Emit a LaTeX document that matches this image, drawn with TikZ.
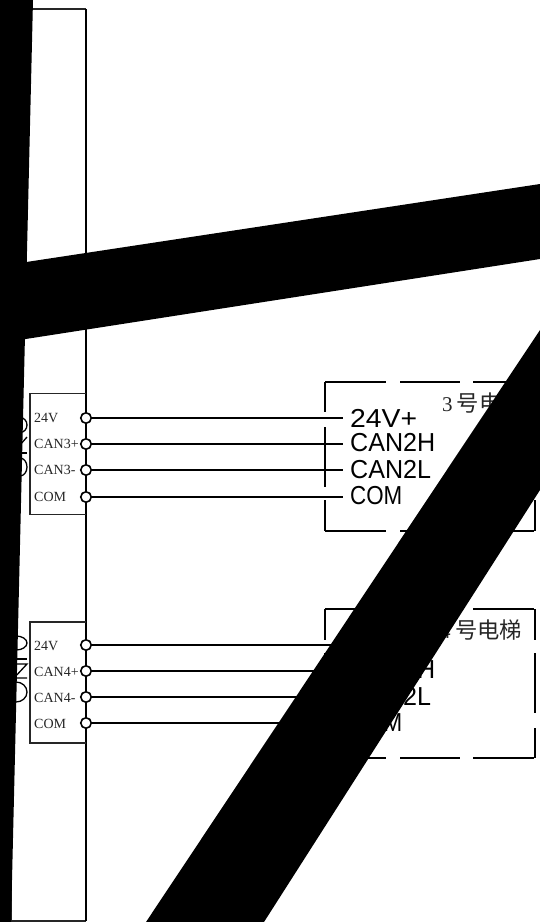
\documentclass[tikz,border=0pt]{standalone}
\usepackage{graphicx}
\usepackage{fontspec}
\setmainfont{Liberation Serif}
\newfontfamily\lsans{Liberation Sans}
\newfontfamily\cjk{Noto Sans CJK SC}
\tikzset{
  thinln/.style={line width=1.3pt,draw=black!85},
  wire/.style={line width=1.6pt,draw=black},
  dashln/.style={line width=1.4pt,draw=black},
  pin/.style={circle,draw=black,fill=white,line width=1.6pt,minimum size=10.5pt,inner sep=0pt},
  small/.style={anchor=base west,inner sep=0pt,font=\fontsize{14}{14}\selectfont,text=black!85},
  big/.style={anchor=base west,inner sep=0pt,font=\lsans\fontsize{26}{26}\selectfont},
  title/.style={anchor=base west,inner sep=0pt,font=\fontsize{21}{21}\selectfont,text=black!85},
  cjktitle/.style={anchor=base west,inner sep=0pt,font=\cjk\fontsize{22.3}{23}\selectfont,text=black!85},
  blackout/.style={fill=black,draw=none}
}
\begin{document}
\begin{tikzpicture}[x=1pt,y=-1pt]
\useasboundingbox (0,0) rectangle (540,922);
\fill[white] (0,0) rectangle (540,922);
% frame
\draw[thinln] (11,9) -- (86,9);
\draw[thinln] (11,921) -- (86,921);
\draw[thinln] (11,9) -- (11,921);
\draw[wire] (86,9) -- (86,921);
% connector blocks
\draw[thinln] (86,393.5) -- (30,393.5) -- (30,514.5) -- (86,514.5);
\draw[thinln] (86,622) -- (30,622) -- (30,743) -- (86,743);
% fragments of the rotated labels
\draw[line width=1.3pt] (20,425) ellipse [x radius=7,y radius=7.5];
\draw[line width=1.3pt] (20,445) -- (27,437);
\draw[line width=1.3pt] (18,453) -- (27,453);
\draw[line width=1.3pt] (20,467) ellipse [x radius=7,y radius=9];
\draw[line width=1.3pt] (16,643) ellipse [x radius=11,y radius=7];
\draw[line width=1.3pt] (12,659) -- (27,659);
\draw[line width=1.3pt] (12,664) -- (27,664) -- (14,678) -- (27,678);
\draw[line width=1.3pt] (16,692) ellipse [x radius=11,y radius=10];
% dashed outlines
\foreach \a/\b in {325/386,400/460,473/534} {
  \draw[dashln] (\a,382) -- (\b,382);
  \draw[dashln] (\a,531) -- (\b,531);
  \draw[dashln] (\a,609) -- (\b,609);
  \draw[dashln] (\a,758) -- (\b,758);
}
\foreach \x in {325,535} {
  \foreach \a/\b in {382/412,427/487,500/531,609/640,653/713,728/758}
    \draw[dashln] (\x,\a) -- (\x,\b);
}
% pins and terminals
\foreach \n/\y in {a/418,b/444,c/470,d/497,e/645,f/671,g/697,h/723} {
  \coordinate (t\n) at (343,\y);
  \node[pin] (p\n) at (86,\y) {};
  \draw[wire] (p\n) -- (t\n);
}
\node[big] (ta) at (350,427) {\scalebox{1.09}[1]{24V+}};
\node[big] (tb) at (350,451.5) {\scalebox{0.965}[1]{CAN2H}};
\node[big] (tc) at (350,478) {\scalebox{0.965}[1]{CAN2L}};
\node[big] (td) at (350,504.5) {\scalebox{0.86}[1]{COM}};
\node[big] (te) at (350,654) {\scalebox{1.09}[1]{24V+}};
\node[big] (tf) at (350,678.5) {\scalebox{0.965}[1]{CAN2H}};
\node[big] (tg) at (350,705) {\scalebox{0.965}[1]{CAN2L}};
\node[big] (th) at (350,731.5) {\scalebox{0.86}[1]{COM}};
\node[small] (la) at (34,422) {24V};
\node[small] (lb) at (34,448) {CAN3+};
\node[small] (lc) at (34,474.5) {CAN3-};
\node[small] (ld) at (34,501) {COM};
\node[small] (le) at (34,650) {24V};
\node[small] (lf) at (34,676.5) {CAN4+};
\node[small] (lg) at (34,702.5) {CAN4-};
\node[small] (lh) at (34,728) {COM};
\node[title] (t3) at (442,411.5) {3};
\node[cjktitle] (c3) at (456.5,411) {号电梯};
\node[title] (t4) at (440,638.5) {4};
\node[cjktitle] (c4) at (455,638.5) {号电梯};
% black bands laid over the drawing
\fill[blackout] (0,0) -- (33,0) -- (11,922) -- (0,922) -- cycle;
\fill[blackout] (0,266) -- (540,184) -- (540,259) -- (0,343) -- cycle;
\fill[blackout] (540,330) -- (540,490) -- (264,922) -- (146,922) -- cycle;
\end{tikzpicture}
\end{document}
